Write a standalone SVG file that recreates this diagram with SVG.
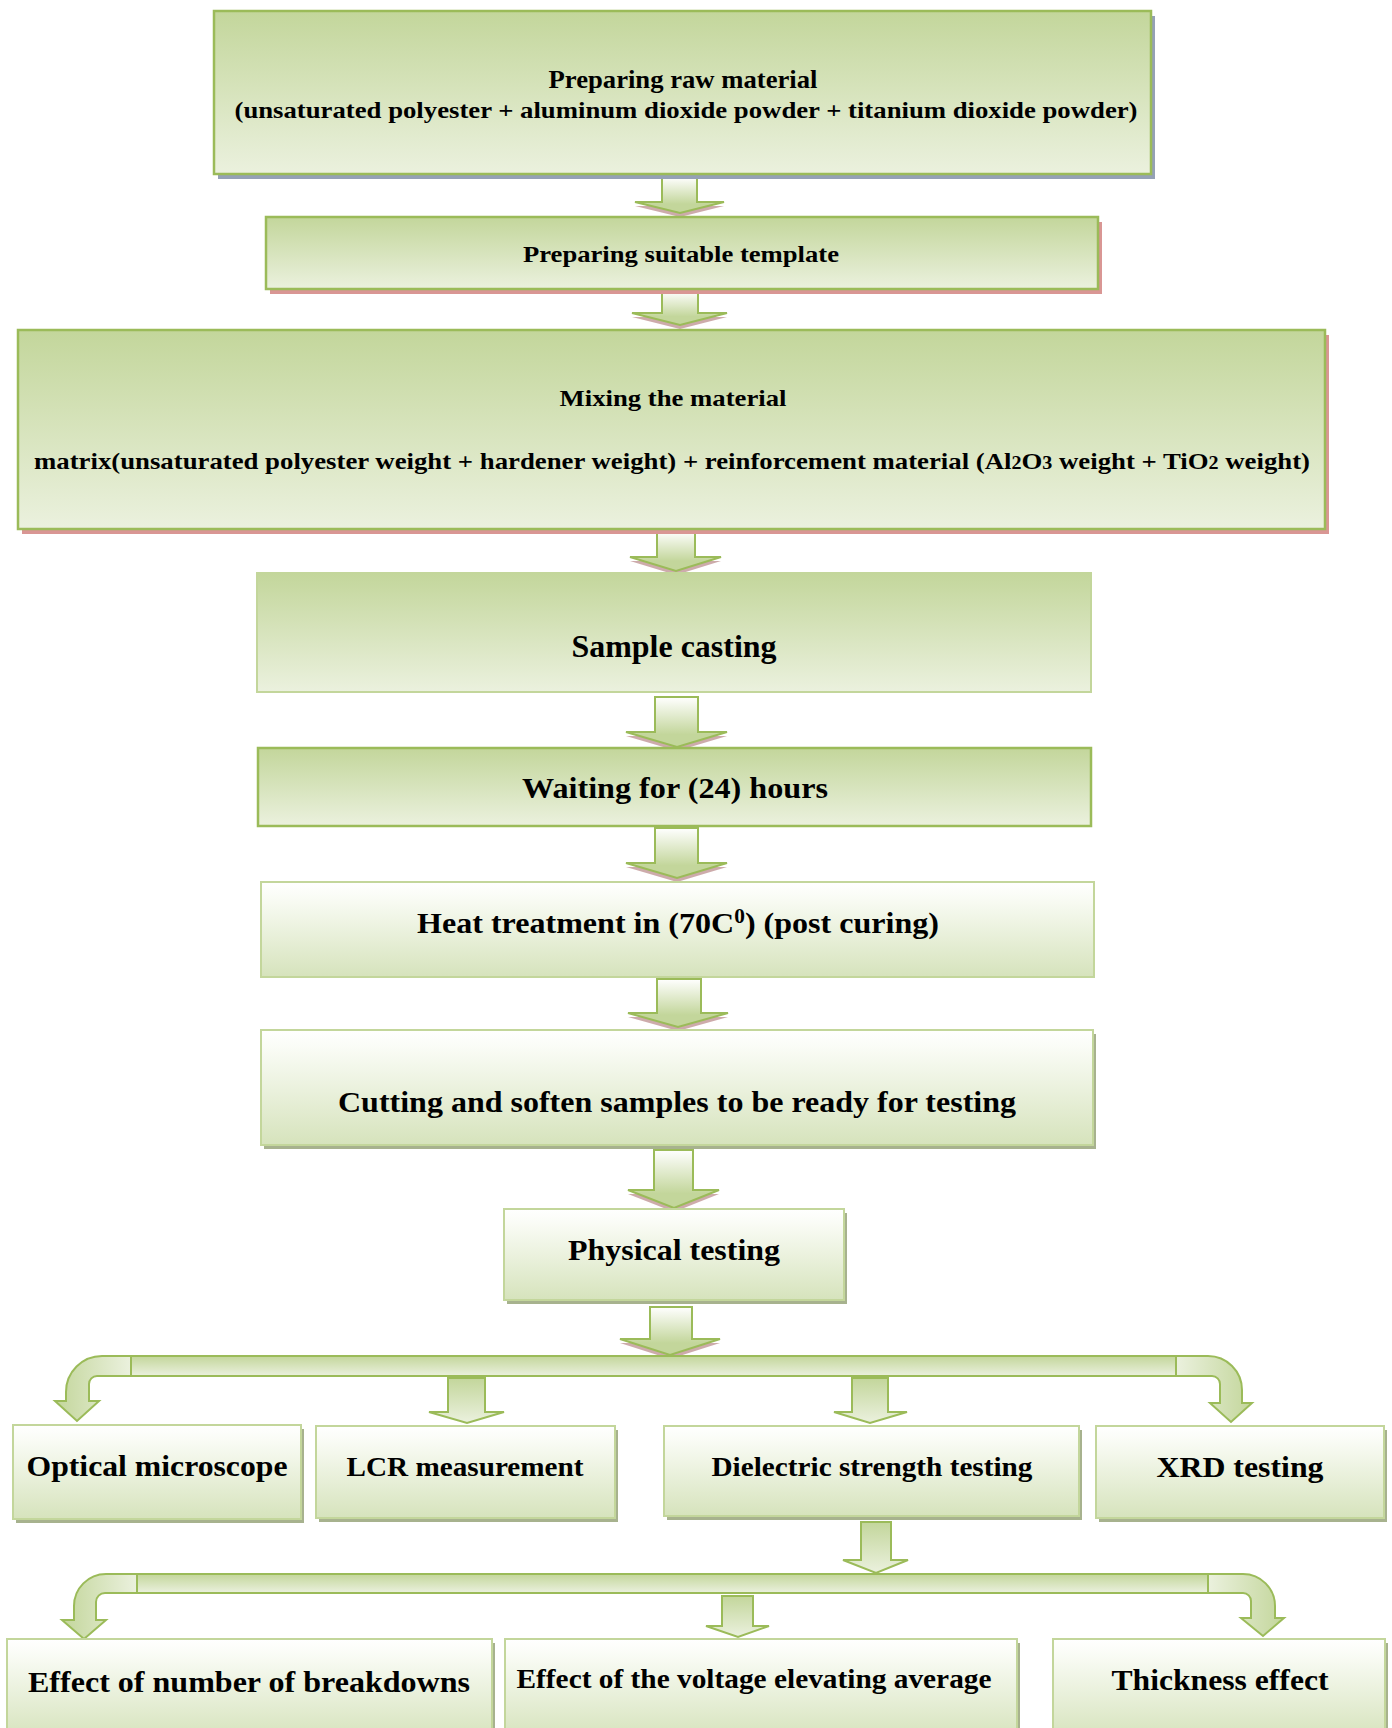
<svg xmlns="http://www.w3.org/2000/svg" width="1392" height="1728" viewBox="0 0 1392 1728">
<defs>
<linearGradient id="gGreen" x1="0" y1="0" x2="0" y2="1"><stop offset="0" stop-color="#C3D69B"/><stop offset="1" stop-color="#EBF1DE"/></linearGradient>
<linearGradient id="gWhite" x1="0" y1="0" x2="0" y2="1"><stop offset="0" stop-color="#FFFFFF"/><stop offset="0.15" stop-color="#FAFCF6"/><stop offset="1" stop-color="#D6E3BC"/></linearGradient>
<linearGradient id="gArrow" x1="0" y1="0" x2="0" y2="1"><stop offset="0" stop-color="#FFFFFF"/><stop offset="0.75" stop-color="#C3D69B"/><stop offset="1" stop-color="#C3D69B"/></linearGradient>
<linearGradient id="gBar" x1="0" y1="0" x2="0" y2="1"><stop offset="0" stop-color="#C3D69B"/><stop offset="1" stop-color="#EBF1DE"/></linearGradient>
<linearGradient id="gBendL" x1="0" y1="0" x2="1" y2="0"><stop offset="0" stop-color="#C3D69B"/><stop offset="1" stop-color="#EBF1DE"/></linearGradient>
<linearGradient id="gBendR" x1="0" y1="0" x2="1" y2="0"><stop offset="0" stop-color="#EBF1DE"/><stop offset="1" stop-color="#C3D69B"/></linearGradient>
</defs>
<style>
.bx{fill:url(#gGreen);stroke:#9BBB59;stroke-width:2.5}
.bxl{fill:url(#gGreen);stroke:#C3D69B;stroke-width:2}
.bxw{fill:url(#gWhite);stroke:#C3D69B;stroke-width:2}
.shB{fill:#95A1B6}
.shP{fill:#D99694}
.shG{fill:#A7B28E}
.ar{fill:url(#gArrow);stroke:#9BBB59;stroke-width:2;stroke-linejoin:miter}
.arS{fill:#C49C9C;opacity:0.85}
.ab{fill:url(#gGreen);stroke:#9BBB59;stroke-width:2}
.bar{fill:url(#gBar);stroke:#9BBB59;stroke-width:2}
.bl{fill:url(#gBendL);stroke:#9BBB59;stroke-width:2}
.br{fill:url(#gBendR);stroke:#9BBB59;stroke-width:2}
text{font-family:"Liberation Serif","Times New Roman",serif;font-weight:bold;fill:#000;text-anchor:middle}
</style>

<g id="connectors">
<path class="arS" d="M662,181 H697 V206 H724 L680,217 L635,206 H662 Z"/>
<path class="ar" d="M662,177 H697 V202 H724 L680,213 L635,202 H662 Z"/>
<path class="arS" d="M662,295 H698 V317 H727 L680,329 L632,317 H662 Z"/>
<path class="ar" d="M662,291 H698 V313 H727 L680,325 L632,313 H662 Z"/>
<path class="arS" d="M657,535 H695 V561 H721 L676,575 L630,561 H657 Z"/>
<path class="ar" d="M657,531 H695 V557 H721 L676,571 L630,557 H657 Z"/>
<path class="arS" d="M655,701 H698 V736 H727 L677,751 L626,736 H655 Z"/>
<path class="ar" d="M655,697 H698 V732 H727 L677,747 L626,732 H655 Z"/>
<path class="arS" d="M655,832 H698 V867 H727 L677,882 L626,867 H655 Z"/>
<path class="ar" d="M655,828 H698 V863 H727 L677,878 L626,863 H655 Z"/>
<path class="arS" d="M657,983 H701 V1017 H728 L678,1031 L628,1017 H657 Z"/>
<path class="ar" d="M657,979 H701 V1013 H728 L678,1027 L628,1013 H657 Z"/>
<path class="arS" d="M654,1154 H693 V1194 H719 L674,1212 L628,1194 H654 Z"/>
<path class="ar" d="M654,1150 H693 V1190 H719 L674,1208 L628,1190 H654 Z"/>
<path class="arS" d="M650,1311 H692 V1343 H720 L670,1359 L620,1343 H650 Z"/>
<path class="ar" d="M650,1307 H692 V1339 H720 L670,1355 L620,1339 H650 Z"/>

<rect class="bar" x="131" y="1356" width="1045" height="20"/>
<path class="bl" d="M131,1356 H102 A36,36 0 0 0 66,1392 V1401 H55 L77,1421 L99,1401 H89 V1384 A8,8 0 0 1 97,1376 H131 Z"/>
<path class="br" d="M1176,1356 H1208 A34,34 0 0 1 1242,1390 V1403 H1252 L1231,1422 L1210,1403 H1220 V1384 A8,8 0 0 0 1212,1376 H1176 Z"/>
<path class="ab" d="M448,1378 H485 V1412 H504 L467,1423 L429,1412 H448 Z"/>
<path class="ab" d="M852,1378 H888 V1412 H907 L870,1423 L834,1412 H852 Z"/>

<path class="ab" d="M861,1522 H891 V1560 H908 L876,1573 L843,1560 H861 Z"/>
<rect class="bar" x="137" y="1574" width="1071" height="19"/>
<path class="bl" d="M137,1574 H106 A32,32 0 0 0 74,1606 V1620 H62 L84,1639 L106,1620 H96 V1602 A9,9 0 0 1 105,1593 H137 Z"/>
<path class="br" d="M1208,1574 H1243 A32,32 0 0 1 1275,1606 V1618 H1284 L1263,1636 L1241,1618 H1251 V1601 A8,8 0 0 0 1243,1593 H1208 Z"/>
<path class="ab" d="M722,1596 H753 V1626 H769 L738,1637 L706,1626 H722 Z"/>
</g>

<g id="n1">
<rect class="shB" x="218" y="16" width="937" height="163"/>
<rect class="bx" x="214" y="11" width="937" height="163"/>
<text x="683" y="88" font-size="25" textLength="269" lengthAdjust="spacingAndGlyphs">Preparing raw material</text>
<text x="686" y="118" font-size="24" textLength="903" lengthAdjust="spacingAndGlyphs">(unsaturated polyester + aluminum dioxide powder + titanium dioxide powder)</text>
</g>

<g id="n2">
<rect class="shP" x="270" y="222" width="832" height="72"/>
<rect class="bx" x="266" y="217" width="832" height="72"/>
<text x="681" y="262" font-size="24" textLength="316" lengthAdjust="spacingAndGlyphs">Preparing suitable template</text>
</g>

<g id="n3">
<rect class="shP" x="22" y="335" width="1307" height="199"/>
<rect class="bx" x="18" y="330" width="1307" height="199"/>
<text x="673" y="406" font-size="24" textLength="227" lengthAdjust="spacingAndGlyphs">Mixing the material</text>
<text x="672" y="469" font-size="24" textLength="1276" lengthAdjust="spacingAndGlyphs">matrix(unsaturated polyester weight + hardener weight) + reinforcement material (Al<tspan font-size="18">2</tspan>O<tspan font-size="18">3</tspan> weight + TiO<tspan font-size="18">2</tspan> weight)</text>
</g>

<g id="n4">
<rect class="bxl" x="257" y="573" width="834" height="119"/>
<text x="674" y="657" font-size="31" textLength="205" lengthAdjust="spacingAndGlyphs">Sample casting</text>
</g>

<g id="n5">
<rect class="bx" x="258" y="748" width="833" height="78"/>
<text x="675" y="798" font-size="30" textLength="306" lengthAdjust="spacingAndGlyphs">Waiting for (24) hours</text>
</g>

<g id="n6">
<rect class="bxw" x="261" y="882" width="833" height="95"/>
<text x="678" y="933" font-size="30" textLength="522" lengthAdjust="spacingAndGlyphs">Heat treatment in (70C<tspan font-size="20" dy="-10">0</tspan><tspan dy="10">) (post curing)</tspan></text>
</g>

<g id="n7">
<rect class="shG" x="264" y="1034" width="832" height="115"/>
<rect class="bxw" x="261" y="1030" width="832" height="115"/>
<text x="677" y="1112" font-size="30" textLength="678" lengthAdjust="spacingAndGlyphs">Cutting and soften samples to be ready for testing</text>
</g>

<g id="n8">
<rect class="shG" x="507" y="1213" width="340" height="91"/>
<rect class="bxw" x="504" y="1209" width="340" height="91"/>
<text x="674" y="1260" font-size="29" textLength="212" lengthAdjust="spacingAndGlyphs">Physical testing</text>
</g>

<g id="n9">
<rect class="shG" x="16" y="1429" width="288" height="94"/>
<rect class="bxw" x="13" y="1425" width="288" height="94"/>
<text x="157" y="1476" font-size="29" textLength="261" lengthAdjust="spacingAndGlyphs">Optical microscope</text>
</g>

<g id="n10">
<rect class="shG" x="319" y="1430" width="299" height="92"/>
<rect class="bxw" x="316" y="1426" width="299" height="92"/>
<text x="465" y="1476" font-size="27" textLength="237" lengthAdjust="spacingAndGlyphs">LCR measurement</text>
</g>

<g id="n11">
<rect class="shG" x="667" y="1430" width="415" height="90"/>
<rect class="bxw" x="664" y="1426" width="415" height="90"/>
<text x="872" y="1476" font-size="28" textLength="321" lengthAdjust="spacingAndGlyphs">Dielectric strength testing</text>
</g>

<g id="n12">
<rect class="shG" x="1099" y="1430" width="288" height="92"/>
<rect class="bxw" x="1096" y="1426" width="288" height="92"/>
<text x="1240" y="1477" font-size="29" textLength="167" lengthAdjust="spacingAndGlyphs">XRD testing</text>
</g>

<g id="n13">
<rect class="shG" x="10" y="1643" width="485" height="100"/>
<rect class="bxw" x="7" y="1639" width="485" height="100"/>
<text x="249" y="1692" font-size="30" textLength="442" lengthAdjust="spacingAndGlyphs">Effect of number of breakdowns</text>
</g>

<g id="n14">
<rect class="shG" x="508" y="1643" width="512" height="100"/>
<rect class="bxw" x="505" y="1639" width="512" height="100"/>
<text x="754" y="1688" font-size="27" textLength="475" lengthAdjust="spacingAndGlyphs">Effect of the voltage elevating average</text>
</g>

<g id="n15">
<rect class="shG" x="1056" y="1643" width="332" height="100"/>
<rect class="bxw" x="1053" y="1639" width="332" height="100"/>
<text x="1220" y="1690" font-size="30" textLength="217" lengthAdjust="spacingAndGlyphs">Thickness effect</text>
</g>
</svg>
